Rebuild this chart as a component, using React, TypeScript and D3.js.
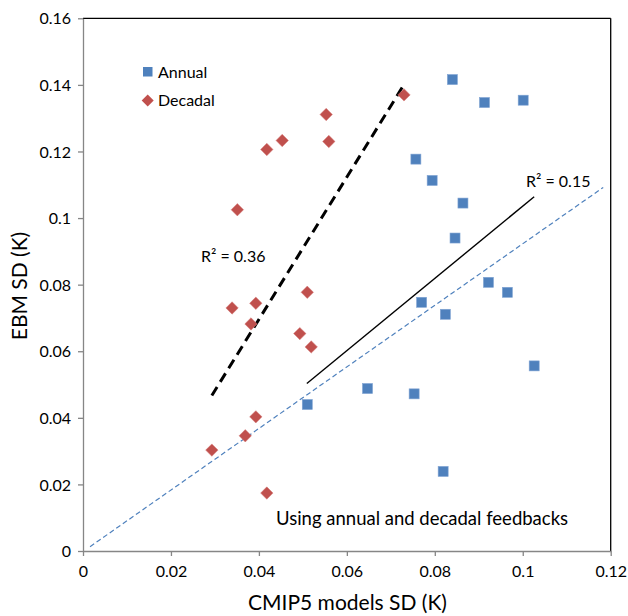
import React, { useEffect, useRef } from "react";
import * as d3 from "d3";

const xTicks = [0, 0.02, 0.04, 0.06, 0.08, 0.1, 0.12];
const yTicks = [0, 0.02, 0.04, 0.06, 0.08, 0.1, 0.12, 0.14, 0.16];

const annualX = [0.0840, 0.0913, 0.1001, 0.0757, 0.0794, 0.0864, 0.0846, 0.0922, 0.0965, 0.0770, 0.0824, 0.1026, 0.0647, 0.0753, 0.0510, 0.0819];
const annualY = [0.1416, 0.1347, 0.1354, 0.1177, 0.1113, 0.1045, 0.0940, 0.0807, 0.0777, 0.0747, 0.0711, 0.0556, 0.0488, 0.0472, 0.0440, 0.0239];

const decadalX = [0.0418, 0.0453, 0.0351, 0.0510, 0.0730, 0.0553, 0.0559, 0.0339, 0.0393, 0.0382, 0.0493, 0.0519, 0.0393, 0.0369, 0.0293, 0.0418];
const decadalY = [0.1206, 0.1233, 0.1025, 0.0777, 0.1370, 0.1311, 0.1230, 0.0730, 0.0744, 0.0682, 0.0653, 0.0613, 0.0403, 0.0346, 0.0303, 0.0174];

const decadalTrendX = [0.0293, 0.0730];
const decadalTrendY = [0.0467, 0.1401];
const annualTrendX = [0.0509, 0.1026];
const annualTrendY = [0.0503, 0.1064];
const refLineX = [0.0016, 0.1183];
const refLineY = [0.0013, 0.1092];

const FONT = "Lato, 'Open Sans', sans-serif";

export default function App() {
  const gx = useRef<SVGGElement>(null);
  const gy = useRef<SVGGElement>(null);

  const x = d3.scaleLinear().domain([0, 0.12]).range([83, 610.7]);
  const y = d3.scaleLinear().domain([0, 0.16]).range([551, 18.3]);
  const fmt = d3.format("~g");

  useEffect(() => {
    if (gx.current) {
      const g = d3.select(gx.current);
      g.call(d3.axisBottom(x).tickValues(xTicks).tickFormat((d: any) => fmt(d)).tickSize(5).tickSizeOuter(0) as any);
      g.select(".domain").attr("stroke", "#868686").attr("stroke-width", 1.3);
      g.selectAll(".tick line").attr("stroke", "#868686").attr("stroke-width", 1.3);
      g.selectAll(".tick text").attr("font-family", FONT).attr("font-size", 16).attr("fill", "#000").attr("dy", "0.32em").attr("y", 21);
    }
    if (gy.current) {
      const g = d3.select(gy.current);
      g.call(d3.axisLeft(y).tickValues(yTicks).tickFormat((d: any) => fmt(d)).tickSize(5).tickSizeOuter(0) as any);
      g.select(".domain").attr("stroke", "#868686").attr("stroke-width", 1.3);
      g.selectAll(".tick line").attr("stroke", "#868686").attr("stroke-width", 1.3);
      g.selectAll(".tick text").attr("font-family", FONT).attr("font-size", 16).attr("fill", "#000").attr("x", -12).attr("dy", "0.35em");
    }
  }, []);

  const blue = "#4F81BD";
  const red = "#C0504D";
  const diamond = (cx: number, cy: number, r: number) =>
    `M${cx},${cy - r}L${cx + r},${cy}L${cx},${cy + r}L${cx - r},${cy}Z`;

  const seg = (xs: number[], ys: number[]) =>
    d3.line<number>().x((d) => x(d)).y((_, i) => y(ys[i]))(xs) as string;

  return (
    <svg width={628} height={616} style={{ position: "absolute", left: 0, top: 0, background: "#fff" }}>
      <rect x={0} y={0} width={628} height={616} fill="#fff" />
      {/* plot border */}
      <line x1={x(0)} x2={x(0.12)} y1={y(0.16)} y2={y(0.16)} stroke="#000" strokeWidth={1.3} />
      <line x1={x(0.12)} x2={x(0.12)} y1={y(0.16)} y2={y(0)} stroke="#000" strokeWidth={1.3} />
      <g ref={gx} transform={`translate(0,${y(0)})`} />
      <g ref={gy} transform={`translate(${x(0)},0)`} />

      {/* reference / trend lines */}
      <path d={seg(refLineX, refLineY)} stroke={blue} strokeWidth={1.2} strokeDasharray="5,3" fill="none" />
      <path d={seg(annualTrendX, annualTrendY)} stroke="#000" strokeWidth={1.4} fill="none" />
      <path d={seg(decadalTrendX, decadalTrendY)} stroke="#000" strokeWidth={3} strokeDasharray="10,6" fill="none" />

      {/* annual squares */}
      {annualX.map((v, i) => (
        <rect key={"a" + i} x={x(v) - 5} y={y(annualY[i]) - 5} width={10} height={10} fill={blue} stroke="#7fa3d3" strokeWidth={0.6} />
      ))}
      {/* decadal diamonds */}
      {decadalX.map((v, i) => (
        <path key={"d" + i} d={diamond(x(v), y(decadalY[i]), 6.2)} fill={red} stroke="#d57b79" strokeWidth={0.5} />
      ))}

      {/* legend */}
      <rect x={143} y={67} width={9.5} height={9.5} fill={blue} />
      <text x={158} y={72} dy="0.35em" fontFamily={FONT} fontSize={16}>Annual</text>
      <path d={diamond(147.7, 100.5, 6)} fill={red} />
      <text x={158} y={100.5} dy="0.35em" fontFamily={FONT} fontSize={16}>Decadal</text>

      {/* annotations */}
      <text x={201} y={256} dy="0.35em" fontFamily={FONT} fontSize={16}>R² = 0.36</text>
      <text x={526} y={181} dy="0.35em" fontFamily={FONT} fontSize={16}>R² = 0.15</text>
      <text x={276} y={519} dy="0.35em" fontFamily={FONT} fontSize={18.5}>Using annual and decadal feedbacks</text>

      {/* axis titles */}
      <text x={347.5} y={603} dy="0.35em" textAnchor="middle" fontFamily={FONT} fontSize={21}>CMIP5 models SD (K)</text>
      <text transform="translate(20,286) rotate(-90)" dy="0.35em" textAnchor="middle" fontFamily={FONT} fontSize={21}>EBM SD (K)</text>
    </svg>
  );
}
